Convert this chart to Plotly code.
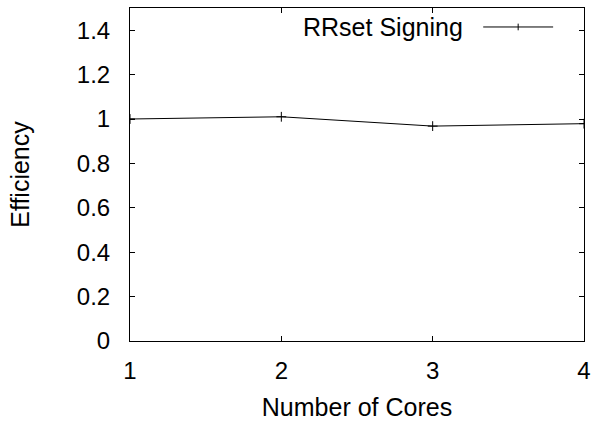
import plotly.graph_objects as go

cores = [1, 2, 3, 4]
efficiency = [1.0, 1.01, 0.968, 0.979]
series_name = "RRset Signing"
y_ticks = [0, 0.2, 0.4, 0.6, 0.8, 1, 1.2, 1.4]
y_tick_labels = ["0", "0.2", "0.4", "0.6", "0.8", "1", "1.2", "1.4"]
x_ticks = [1, 2, 3, 4]

FONT = "Liberation Sans, Arial, sans-serif"

fig = go.Figure()
fig.add_trace(go.Scatter(
    x=cores, y=efficiency, mode="lines+markers", name=series_name,
    line=dict(color="black", width=1),
    marker=dict(symbol="cross-thin", size=7, line=dict(color="black", width=1)),
    showlegend=False,
))

# gnuplot-style key: text on the left, line sample on the right
ky = 0.943
fig.add_annotation(x=0.738, y=ky, xref="paper", yref="paper", text=series_name,
                   showarrow=False, xanchor="right", yanchor="middle",
                   font=dict(family=FONT, size=25, color="black"))
fig.add_shape(type="line", xref="paper", yref="paper", x0=0.778, x1=0.932, y0=ky, y1=ky,
              line=dict(color="black", width=1))
fig.add_shape(type="line", xref="paper", yref="paper", x0=0.855, x1=0.855, y0=ky - 0.01, y1=ky + 0.01,
              line=dict(color="black", width=1))

axis_common = dict(showline=True, linecolor="black", linewidth=1, mirror="allticks",
                   ticks="inside", ticklen=5, tickcolor="black", tickwidth=1,
                   showgrid=False, zeroline=False, automargin=False,
                   tickfont=dict(family=FONT, size=24, color="black"))

fig.update_xaxes(range=[1, 4], tickvals=x_ticks, ticktext=[str(v) for v in x_ticks],
                 title=dict(text="Number of Cores", font=dict(family=FONT, size=25, color="black"), standoff=18),
                 ticklabelstandoff=8, **axis_common)
fig.update_yaxes(range=[0, 1.5], tickvals=y_ticks, ticktext=y_tick_labels,
                 title=dict(text="Efficiency", font=dict(family=FONT, size=25, color="black"), standoff=40),
                 ticklabelstandoff=14, **axis_common)

fig.update_layout(width=596, height=421, margin=dict(l=130, r=12, t=8, b=80),
                  plot_bgcolor="white", paper_bgcolor="white",
                  font=dict(family=FONT, color="black"))

fig.write_html("out.html", config={"displayModeBar": False},
               post_script="document.body.style.margin='0';document.body.style.overflow='hidden';")
